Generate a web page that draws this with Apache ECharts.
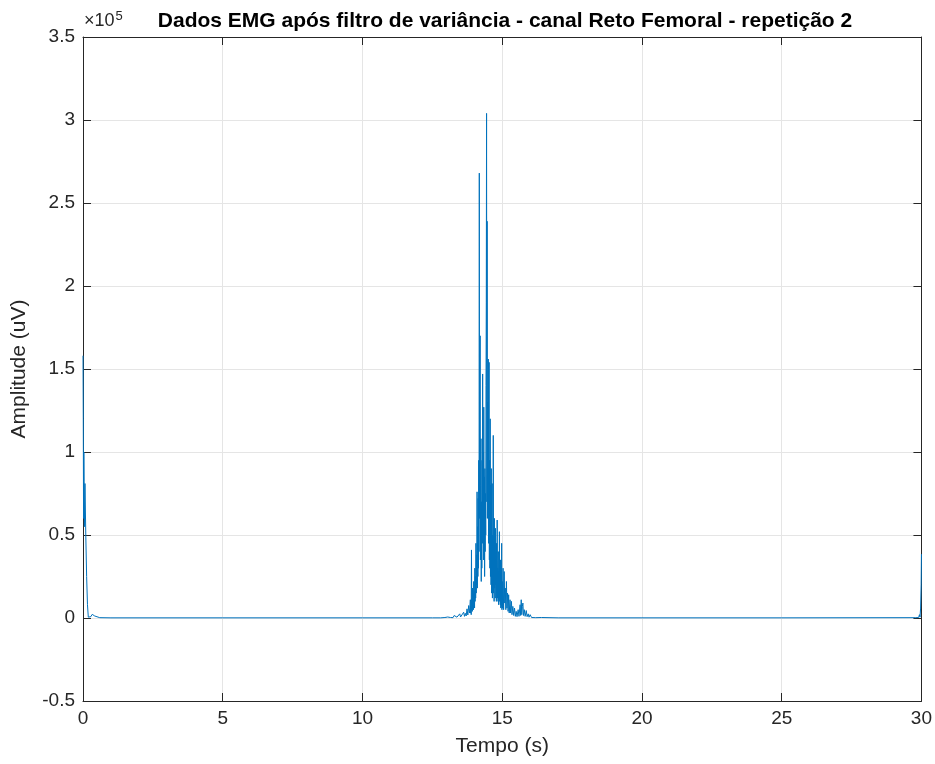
<!DOCTYPE html>
<html>
<head>
<meta charset="utf-8">
<script src="https://cdn.jsdelivr.net/npm/echarts@6/dist/echarts.min.js"></script>
<style>html,body{margin:0;padding:0;background:#fff}#c{width:935px;height:764px}</style>
</head>
<body>
<div id="c"></div>
<script>
// Samples [time (s), amplitude in units of 1e5 uV]
var startSegment = [
  [0.00,1.58],[0.01,1.20],[0.02,0.60],[0.03,1.00],[0.04,0.82],[0.05,0.55],[0.07,0.81],[0.10,0.50],[0.13,0.25],[0.16,0.08],
  [0.19,0.005],[0.23,0.002],[0.28,0.008],[0.33,0.022],[0.38,0.020],[0.42,0.012],[0.48,0.006],[0.60,0.002],[1.00,0.001],
  [5.00,0.001],[10.00,0.001],[12.50,0.001],[12.80,0.001],[12.95,0.003]
];
var riseSegment = [
  [13.00,0.001],[13.05,0.006],[13.08,0.001],[13.12,0.018],[13.15,0.003],[13.20,0.010],[13.24,0.002],[13.28,0.015],[13.31,0.004],
  [13.35,0.020],[13.38,0.005],[13.42,0.012],[13.45,0.004],[13.48,0.025],[13.51,0.006],[13.55,0.018],[13.58,0.008],[13.62,0.035],
  [13.65,0.010],[13.68,0.028],[13.71,0.012],[13.74,0.055],[13.77,0.018],[13.80,0.075],[13.83,0.030]
];
var burstSegment = [
  [13.86,0.11],[13.87,0.03],[13.88,0.06],[13.89,0.02],[13.90,0.41],[13.91,0.05],[13.92,0.12],[13.93,0.04],[13.94,0.18],[13.95,0.06],
  [13.96,0.14],[13.97,0.05],[13.98,0.22],[13.99,0.08],[14.00,0.16],[14.01,0.06],[14.02,0.30],[14.03,0.10],[14.04,0.25],[14.05,0.12],
  [14.06,0.45],[14.07,0.15],[14.08,0.38],[14.09,0.20],[14.10,0.76],[14.11,0.18],[14.12,0.55],[14.13,0.25],[14.14,0.72],[14.15,0.30],
  [14.16,0.95],[14.17,0.40],[14.18,2.68],[14.19,0.60],[14.20,1.05],[14.21,1.70],[14.22,0.35],[14.23,0.80],[14.24,1.08],[14.25,0.22],
  [14.26,0.70],[14.27,0.30],[14.28,0.95],[14.29,0.45],[14.30,1.47],[14.31,0.55],[14.32,1.00],[14.33,0.35],[14.34,1.27],[14.35,0.60],
  [14.36,0.85],[14.37,0.25],[14.38,0.90],[14.39,0.40],[14.40,0.75],[14.41,0.50],[14.42,1.40],[14.43,1.90],[14.44,3.04],[14.45,0.70],
  [14.46,2.39],[14.47,0.60],[14.48,1.30],[14.49,0.80],[14.50,1.56],[14.51,0.45],[14.52,1.10],[14.53,1.54],[14.54,0.35],[14.55,0.95],
  [14.56,0.30],[14.57,1.20],[14.58,0.25],[14.59,0.80],[14.60,0.20],[14.61,0.90],[14.62,0.15],[14.63,0.60],[14.64,0.81],[14.65,0.12],
  [14.66,0.50],[14.67,0.20],[14.68,1.10],[14.69,0.15],[14.70,0.45],[14.71,0.10],[14.72,0.60],[14.73,0.18],[14.74,0.40],[14.75,0.12],
  [14.76,0.54],[14.77,0.20],[14.78,0.35],[14.79,0.10],[14.80,0.45],[14.81,0.15],[14.82,0.59],[14.83,0.12],[14.84,0.30],[14.85,0.10],
  [14.86,0.40],[14.87,0.08],[14.88,0.28],[14.89,0.12],[14.90,0.52],[14.91,0.10],[14.92,0.30],[14.93,0.08],[14.94,0.35],[14.95,0.06],
  [14.96,0.25],[14.97,0.07],[14.98,0.45],[14.99,0.05],[15.00,0.22]
];
var decaySegment = [
  [15.01,0.06],[15.03,0.30],[15.05,0.05],[15.07,0.28],[15.09,0.09],[15.11,0.18],[15.13,0.05],[15.15,0.22],[15.17,0.06],[15.19,0.15],
  [15.21,0.04],[15.23,0.14],[15.25,0.03],[15.28,0.11],[15.30,0.03],[15.33,0.10],[15.35,0.02],[15.38,0.07],[15.41,0.015],[15.44,0.06],
  [15.47,0.010],[15.50,0.04],[15.53,0.008],[15.57,0.05],[15.60,0.010],[15.64,0.08],[15.66,0.015],[15.68,0.11],[15.70,0.02],[15.72,0.07],
  [15.74,0.09],[15.76,0.015],[15.79,0.05],[15.82,0.010],[15.86,0.045],[15.89,0.008],[15.93,0.025],[15.96,0.005],[16.00,0.020],
  [16.05,0.003],[16.10,0.010],[16.20,0.002],[16.40,0.003],[17.00,0.001]
];
var endSegment = [
  [20.00,0.001],[25.00,0.001],[29.80,0.002],[29.90,0.003],[29.93,0.020],[29.95,0.005],[29.97,0.060],[29.99,0.200],[30.00,0.385]
];
var xTicks = [0, 5, 10, 15, 20, 25, 30];
var yTicks = [-0.5, 0, 0.5, 1, 1.5, 2, 2.5, 3, 3.5];
var scale = 1e5;

var data = [].concat(startSegment, riseSegment, burstSegment, decaySegment, endSegment)
  .map(function (p) { return [p[0], p[1] * scale]; });
var axisColor = '#262626';
var font = 'Liberation Sans, Arial, Helvetica, sans-serif';

var chart = echarts.init(document.getElementById('c'), null, { renderer: 'canvas' });
chart.setOption({
  animation: false,
  backgroundColor: '#ffffff',
  title: {
    text: 'Dados EMG após filtro de variância - canal Reto Femoral - repetição 2',
    left: 500, top: 6, textAlign: 'center',
    textStyle: { fontFamily: font, fontWeight: 'bold', fontSize: 21, color: '#000' }
  },
  graphic: [{
    type: 'text', left: 84, top: 10,
    style: {
      text: '×10{s|5}', fontFamily: font, fontSize: 18, fill: axisColor,
      rich: { s: { fontSize: 13, verticalAlign: 'top', padding: [0, 0, 10, 1], fontFamily: font, fill: axisColor } }
    }
  }],
  grid: { left: 83, right: 13, top: 37, bottom: 63, containLabel: false },
  xAxis: [{
    type: 'value', min: xTicks[0], max: xTicks[xTicks.length - 1], interval: 5,
    name: 'Tempo (s)', nameLocation: 'middle', nameGap: 35,
    nameTextStyle: { fontFamily: font, fontSize: 21, color: axisColor },
    axisLine: { show: true, onZero: false, lineStyle: { color: axisColor, width: 1 } },
    axisTick: { show: true, inside: true, length: 8, lineStyle: { color: axisColor } },
    axisLabel: { fontFamily: font, fontSize: 19, color: axisColor, margin: 8 },
    splitLine: { show: true, lineStyle: { color: '#e5e5e5', width: 1 } }
  }, {
    type: 'value', position: 'top', min: xTicks[0], max: xTicks[xTicks.length - 1], interval: 5,
    axisLine: { show: true, onZero: false, lineStyle: { color: axisColor, width: 1 } },
    axisTick: { show: true, inside: true, length: 8, lineStyle: { color: axisColor } },
    axisLabel: { show: false }, splitLine: { show: false }
  }],
  yAxis: [{
    type: 'value', min: yTicks[0] * scale, max: yTicks[yTicks.length - 1] * scale, interval: 0.5 * scale,
    name: 'Amplitude (uV)', nameLocation: 'middle', nameGap: 53,
    nameTextStyle: { fontFamily: font, fontSize: 21, color: axisColor },
    axisLine: { show: true, onZero: false, lineStyle: { color: axisColor, width: 1 } },
    axisTick: { show: true, inside: true, length: 8, lineStyle: { color: axisColor } },
    axisLabel: {
      fontFamily: font, fontSize: 19, color: axisColor, margin: 8,
      formatter: function (v) { return String(Math.round(v / scale * 10) / 10); }
    },
    splitLine: { show: true, lineStyle: { color: '#e5e5e5', width: 1 } }
  }, {
    type: 'value', position: 'right', min: yTicks[0] * scale, max: yTicks[yTicks.length - 1] * scale, interval: 0.5 * scale,
    axisLine: { show: true, onZero: false, lineStyle: { color: axisColor, width: 1 } },
    axisTick: { show: true, inside: true, length: 8, lineStyle: { color: axisColor } },
    axisLabel: { show: false }, splitLine: { show: false }
  }],
  series: [{
    type: 'line', data: data, xAxisIndex: 0, yAxisIndex: 0,
    showSymbol: false, symbol: 'none', sampling: null,
    lineStyle: { color: '#0072BD', width: 1 }
  }]
});
</script>
</body>
</html>
